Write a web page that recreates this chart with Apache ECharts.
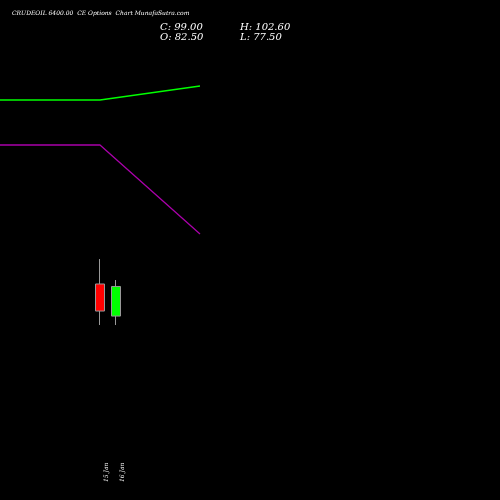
<!DOCTYPE html>
<html>
<head>
<meta charset="utf-8">
<script src="https://cdn.jsdelivr.net/npm/echarts@6/dist/echarts.min.js"></script>
<style>html,body{margin:0;background:#000}#main{width:500px;height:500px}</style>
</head>
<body>
<div id="main"></div>
<script>
var dates = ['15 Jan', '16 Jan'];
// open, close, low, high
var candles = [[100.4, 85.3, 77.5, 114.3], [82.5, 99.0, 77.5, 102.6]];
var lineX = [-6.25, 0, 6.25];
var greenLine = [100, 100, 86];
var purpleLine = [145, 145, 234];

var myChart = echarts.init(document.getElementById('main'));
var font = { color: '#fff', fontFamily: 'DejaVu Serif', fontStyle: 'italic' };
var option = {
    backgroundColor: '#000',
    animation: false,
    grid: { left: 0, right: 0, top: 0, bottom: 0 },
    xAxis: { type: 'value', min: -6.25, max: 25, show: false },
    yAxis: [
        { type: 'value', min: -20.1, max: 258.8, show: false },
        { type: 'value', min: 0, max: 500, inverse: true, show: false }
    ],
    series: [
        {
            type: 'candlestick', barWidth: 9,
            data: candles.map(function (c, i) { return [i].concat(c); }),
            encode: { x: 0, y: [1, 2, 3, 4] },
            itemStyle: { color: '#00ff00', color0: '#ff0000', borderColor: '#999', borderColor0: '#999' }
        },
        { type: 'line', yAxisIndex: 1, symbol: 'none', data: lineX.map(function (x, i) { return [x, greenLine[i]]; }), lineStyle: { color: '#00ff00', width: 1.3 } },
        { type: 'line', yAxisIndex: 1, symbol: 'none', data: lineX.map(function (x, i) { return [x, purpleLine[i]]; }), lineStyle: { color: '#aa00aa', width: 1.3 } }
    ]
};
myChart.setOption(option);

var g = [
    { type: 'text', left: 12, top: 10, style: Object.assign({ text: 'CRUDEOIL 6400.00  CE Options  Chart MunafaSutra.com', fontSize: 6, fill: '#fff' }, { fontFamily: 'DejaVu Serif', fontStyle: 'italic' }) },
    { type: 'text', left: 160, top: 22, style: { text: 'C: 99.00\nO: 82.50', fontSize: 10, lineHeight: 10, fill: '#fff', fontFamily: 'DejaVu Serif', fontStyle: 'italic' } },
    { type: 'text', left: 240, top: 22, style: { text: 'H: 102.60\nL: 77.50', fontSize: 10, lineHeight: 10, fill: '#fff', fontFamily: 'DejaVu Serif', fontStyle: 'italic' } }
];
dates.forEach(function (d, i) {
    var px = myChart.convertToPixel({ xAxisIndex: 0 }, i);
    g.push({ type: 'text', x: px + 3, y: 482, rotation: Math.PI / 2, style: { text: d, fontSize: 6, fill: '#fff', fontFamily: 'DejaVu Serif', fontStyle: 'italic' } });
});
myChart.setOption({ graphic: g });
</script>
</body>
</html>
